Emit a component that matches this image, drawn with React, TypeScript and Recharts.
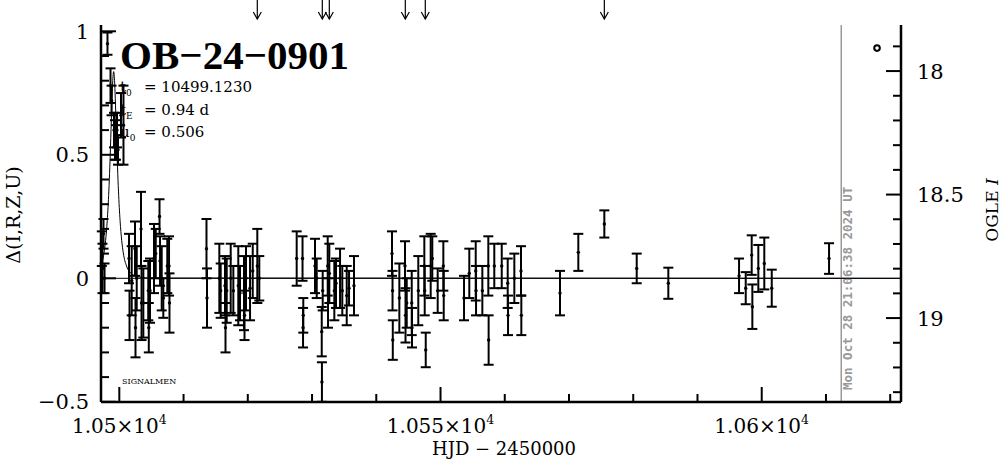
import React from 'react';
import { ComposedChart, XAxis, YAxis, Scatter, Line, ErrorBar, ReferenceLine } from 'recharts';

const FONT = '"DejaVu Serif", serif';

// photometry: HJD - 2450000, delta, error
const hjd = [
  10497.28, 10497.38, 10497.54, 10497.70, 10498.16, 10498.63, 10498.79, 10499.17, 10499.33, 10499.49,
  10499.64, 10499.80, 10500.26, 10500.65,
  10501.51, 10501.59, 10501.93, 10502.44, 10502.52, 10502.71, 10503.38, 10503.46, 10503.74, 10504.51,
  10504.59, 10504.78, 10505.40, 10505.67, 10506.26, 10506.34, 10506.60, 10506.85, 10507.47, 10507.74,
  10507.81,
  10513.57, 10513.65, 10515.57, 10515.78, 10516.45, 10516.53, 10516.72, 10517.34, 10517.75, 10518.52,
  10518.79, 10519.41, 10519.49, 10519.72, 10520.35, 10520.77, 10521.48, 10521.79,
  10527.61, 10528.52, 10528.60, 10528.64, 10530.46, 10530.73, 10531.51, 10531.54, 10531.66, 10532.44,
  10532.49, 10532.69, 10533.47, 10533.73, 10534.36, 10534.71, 10535.40, 10535.76, 10536.53,
  10542.45, 10542.53, 10542.57, 10543.59, 10544.47, 10544.55, 10544.74, 10545.52, 10545.56, 10546.54,
  10547.48, 10547.54, 10547.70, 10548.47, 10548.72, 10549.56, 10550.44, 10550.50,
  10553.66, 10554.48, 10555.48, 10555.53, 10556.51, 10557.44, 10557.49, 10558.37, 10559.53, 10560.46,
  10560.51, 10561.49, 10562.53, 10562.58,
  10568.60, 10571.45, 10575.50, 10580.54, 10585.46, 10596.47, 10597.51, 10598.44, 10598.54, 10599.47,
  10600.40, 10601.56, 10610.48,
];
const delta = [
  0.12, 0.04, 0.18, 0.0, 0.95, 0.78, 0.72, 0.6, 0.56, 0.55,
  0.6, 0.52, 0.66, 0.62,
  0.08, -0.15, -0.01, 0.12, -0.2, 0.0, 0.2, -0.1, -0.1, -0.05,
  -0.2, -0.05, 0.08, 0.1, 0.25, 0.07, 0.0, -0.08, 0.05, 0.05,
  -0.1,
  0.12, -0.08, 0.0, -0.05, -0.03, -0.2, -0.05, 0.0, -0.05, -0.03,
  -0.06, -0.06, -0.15, 0.0, -0.04, 0.03, 0.05, 0.0,
  0.08, 0.08, -0.2, -0.15, 0.05, 0.0, -0.216, -0.42, -0.05, 0.05,
  -0.1, 0.02, -0.05, -0.02, 0.0, -0.05, -0.07, -0.04, -0.03,
  0.1, -0.05, -0.25, -0.08, 0.05, -0.15, -0.1, -0.1, -0.2, -0.05,
  0.05, -0.05, -0.29, 0.05, 0.08, -0.05, 0.05, -0.07,
  -0.08, 0.02, 0.03, -0.05, -0.05, 0.05, -0.25, 0.05, 0.05, -0.02,
  -0.15, 0.0, 0.03, -0.15,
  -0.06, 0.105, 0.22, 0.04, -0.02, 0.01, -0.04, 0.094, -0.115, 0.04,
  0.06, -0.04, 0.08,
];
const sigma = [
  0.07, 0.1, 0.06, 0.06, 0.045, 0.07, 0.06, 0.07, 0.08, 0.07,
  0.07, 0.06, 0.09, 0.16,
  0.1, 0.1, 0.14, 0.11, 0.12, 0.13, 0.15, 0.15, 0.14, 0.12,
  0.1, 0.13, 0.14, 0.1, 0.07, 0.1, 0.13, 0.08, 0.11, 0.12,
  0.12,
  0.12, 0.12, 0.14, 0.11, 0.12, 0.1, 0.13, 0.14, 0.1, 0.16,
  0.11, 0.15, 0.1, 0.13, 0.13, 0.11, 0.15, 0.09,
  0.11, 0.09, 0.08, 0.07, 0.11, 0.08, 0.1, 0.08, 0.08, 0.12,
  0.1, 0.12, 0.12, 0.1, 0.12, 0.1, 0.12, 0.07, 0.12,
  0.09, 0.08, 0.08, 0.14, 0.1, 0.11, 0.1, 0.13, 0.08, 0.14,
  0.12, 0.1, 0.07, 0.13, 0.09, 0.09, 0.1, 0.1,
  0.09, 0.1, 0.12, 0.1, 0.1, 0.12, 0.1, 0.09, 0.09, 0.1,
  0.08, 0.1, 0.1, 0.08,
  0.09, 0.075, 0.055, 0.06, 0.063, 0.07, 0.065, 0.08, 0.09, 0.095,
  0.105, 0.075, 0.062,
];

// model light curve
const modelHjd = [
  10497.15, 10497.62, 10497.87, 10498.12, 10498.37, 10498.52, 10498.62, 10498.72, 10498.87, 10499.02,
  10499.12, 10499.22, 10499.37, 10499.52, 10499.62, 10499.72, 10499.87, 10500.12, 10500.37, 10500.62,
  10501.12, 10501.62, 10502.12, 10503.12, 10505.12, 10621.68,
];
const modelDelta = [
  0.052, 0.103, 0.154, 0.233, 0.353, 0.45, 0.526, 0.608, 0.729, 0.817,
  0.837, 0.817, 0.729, 0.608, 0.526, 0.45, 0.353, 0.233, 0.154, 0.103,
  0.05, 0.026, 0.014, 0.005, 0.001, 0.0,
];

const alertHjd = [10521.48, 10531.6, 10532.69, 10544.52, 10547.63, 10575.5];
const ogleHjd = [10617.95];
const ogleMag = [17.907];

const xTicks = [10500, 10510, 10520, 10530, 10540, 10550, 10560, 10570, 10580, 10590, 10600, 10610, 10620];
const yTicks = [-0.5, -0.4, -0.3, -0.2, -0.1, 0, 0.1, 0.2, 0.3, 0.4, 0.5, 0.6, 0.7, 0.8, 0.9, 1.0];
const magTicks = [17.9, 18.0, 18.1, 18.2, 18.3, 18.4, 18.5, 18.6, 18.7, 18.8, 18.9, 19.0, 19.1, 19.2, 19.3];

const X_DOMAIN: [number, number] = [10497.15, 10621.68];
const Y_DOMAIN: [number, number] = [-0.5008, 1.0255];
const MAG_DOMAIN: [number, number] = [17.8135, 19.3398];
const NOW_HJD = 10612.38;

const obsData = hjd.map((t, i) => ({ t, d: delta[i], e: sigma[i] }));
const modelData = modelHjd.map((t, i) => ({ t, d: modelDelta[i] }));
const arrowData = alertHjd.map((t) => ({ t, d: Y_DOMAIN[1] }));
const ogleData = ogleHjd.map((t, i) => ({ t, d: ogleMag[i] }));

const isHalf = (v: number) => Math.abs(v * 2 - Math.round(v * 2)) < 1e-6;

const BottomTick = ({ x, y, payload }: any) => {
  const v = payload.value;
  const major = v % 50 === 0;
  return (
    <g>
      <line x1={x} y1={y} x2={x} y2={y - (major ? 15 : 8)} stroke="#000" strokeWidth={2} />
      {major && (
        <text x={x} y={y + 31} textAnchor="middle" fontFamily={FONT} fontSize={20} fill="#000">
          {(v / 10000).toString()}×10
          <tspan fontSize={12.5} dy={-9}>4</tspan>
        </text>
      )}
    </g>
  );
};

const TopTick = ({ x, y, payload }: any) => {
  const major = payload.value % 50 === 0;
  return <line x1={x} y1={y} x2={x} y2={y + (major ? 15 : 8)} stroke="#000" strokeWidth={2} />;
};

const LeftTick = ({ x, y, payload }: any) => {
  const v = payload.value;
  const major = isHalf(v);
  const label = v < 0 ? '\u2212' + Math.abs(v) : String(v);
  return (
    <g>
      <line x1={x} y1={y} x2={x + (major ? 15 : 8)} y2={y} stroke="#000" strokeWidth={2} />
      {major && (
        <text x={x - 12} y={y + 7.5} textAnchor="end" fontFamily={FONT} fontSize={21} fill="#000">
          {label}
        </text>
      )}
    </g>
  );
};

const RightTick = ({ x, y, payload }: any) => {
  const v = payload.value;
  const major = isHalf(v);
  return (
    <g>
      <line x1={x} y1={y} x2={x - (major ? 15 : 8)} y2={y} stroke="#000" strokeWidth={2} />
      {major && (
        <text x={x + 16} y={y + 7.5} textAnchor="start" fontFamily={FONT} fontSize={21} fill="#000">
          {String(Math.round(v * 10) / 10)}
        </text>
      )}
    </g>
  );
};

const Dot = ({ cx, cy }: any) => <circle cx={cx} cy={cy} r={1.7} fill="#000" />;

const Arrow = ({ cx, cy }: any) => (
  <g stroke="#000" strokeWidth={1.2} fill="none">
    <line x1={cx} y1={cy - 26} x2={cx} y2={cy - 6} />
    <polyline points={`${cx - 4},${cy - 13} ${cx},${cy - 6} ${cx + 4},${cy - 13}`} />
  </g>
);

const OpenCircle = ({ cx, cy }: any) => (
  <circle cx={cx} cy={cy} r={2.8} fill="none" stroke="#000" strokeWidth={2} />
);

const StampLabel = ({ viewBox }: any) => {
  const { x, y, height } = viewBox;
  return (
    <text
      transform={`translate(${x + 11},${y + height - 12}) rotate(-90)`}
      fontFamily='"DejaVu Sans Mono", monospace'
      fontWeight="bold"
      fontSize={12.5}
      fill="#999"
    >
      Mon Oct 28 21:06:38 2024 UT
    </text>
  );
};

export default function App() {
  return (
    <div style={{ position: 'absolute', left: 0, top: 0, width: 1004, height: 459, background: '#fff' }}>
      <ComposedChart width={1004} height={459} margin={{ top: 25, right: 0, bottom: 0, left: 0 }}>
        <XAxis
          xAxisId="b"
          dataKey="t"
          type="number"
          domain={X_DOMAIN}
          ticks={xTicks}
          interval={0}
          tickSize={0}
          tickMargin={0}
          tickLine={false}
          tick={<BottomTick />}
          axisLine={{ stroke: '#000', strokeWidth: 2.5 }}
          height={57}
        />
        <XAxis
          xAxisId="top"
          orientation="top"
          dataKey="t"
          type="number"
          domain={X_DOMAIN}
          ticks={xTicks}
          interval={0}
          tickSize={0}
          tickMargin={0}
          tickLine={false}
          tick={<TopTick />}
          axisLine={{ stroke: '#000', strokeWidth: 2.5 }}
          height={0}
        />
        <YAxis
          yAxisId="left"
          type="number"
          domain={Y_DOMAIN}
          ticks={yTicks}
          interval={0}
          tickSize={0}
          tickMargin={0}
          tickLine={false}
          tick={<LeftTick />}
          axisLine={{ stroke: '#000', strokeWidth: 2.5 }}
          width={101}
        />
        <YAxis
          yAxisId="right"
          orientation="right"
          type="number"
          domain={MAG_DOMAIN}
          reversed
          ticks={magTicks}
          interval={0}
          tickSize={0}
          tickMargin={0}
          tickLine={false}
          tick={<RightTick />}
          axisLine={{ stroke: '#000', strokeWidth: 2.5 }}
          width={103}
        />
        <ReferenceLine xAxisId="b" yAxisId="left" y={0} stroke="#000" strokeWidth={1} />
        <ReferenceLine
          xAxisId="b"
          yAxisId="left"
          x={NOW_HJD}
          stroke="#999"
          strokeWidth={1.5}
          label={<StampLabel />}
        />
        <Line
          xAxisId="b"
          yAxisId="left"
          data={modelData}
          dataKey="d"
          type="monotone"
          stroke="#000"
          strokeWidth={1}
          dot={false}
          isAnimationActive={false}
        />
        <Scatter
          xAxisId="b"
          yAxisId="left"
          data={obsData}
          dataKey="d"
          shape={<Dot />}
          isAnimationActive={false}
        >
          <ErrorBar dataKey="e" direction="y" width={5} stroke="#000" strokeWidth={2} />
        </Scatter>
        <Scatter
          xAxisId="top"
          yAxisId="left"
          data={arrowData}
          dataKey="d"
          shape={<Arrow />}
          isAnimationActive={false}
        />
        <Scatter
          xAxisId="b"
          yAxisId="right"
          data={ogleData}
          dataKey="d"
          shape={<OpenCircle />}
          isAnimationActive={false}
        />
      </ComposedChart>
      <svg
        width={1004}
        height={459}
        style={{ position: 'absolute', left: 0, top: 0, pointerEvents: 'none' }}
      >
        <text x={120} y={69} fontFamily='"Liberation Serif", serif' fontWeight="bold" fontSize={41} fill="#000">
          OB{'\u2212'}24{'\u2212'}0901
        </text>
        <g fontFamily={FONT} fontSize={15} fill="#000">
          <text x={120} y={92}>
            t<tspan fontSize={9} dy={4}>0</tspan>
          </text>
          <text x={144} y={92}>= 10499.1230</text>
          <text x={120} y={115}>
            t<tspan fontSize={9} dy={4}>E</tspan>
          </text>
          <text x={144} y={115}>= 0.94 d</text>
          <text x={120} y={137}>
            u<tspan fontSize={9} dy={4}>0</tspan>
          </text>
          <text x={144} y={137}>= 0.506</text>
        </g>
        <text x={122} y={383.5} fontFamily={FONT} fontSize={8} fill="#000">
          SIGNALMEN
        </text>
        <text
          transform="translate(20,215) rotate(-90)"
          textAnchor="middle"
          fontFamily={FONT}
          fontSize={19}
          fill="#000"
        >
          Δ(I,R,Z,U)
        </text>
        <text
          transform="translate(998,210) rotate(-90)"
          textAnchor="middle"
          fontFamily={FONT}
          fontSize={17}
          fill="#000"
        >
          OGLE <tspan fontStyle="italic">I</tspan>
        </text>
        <text x={504} y={455} textAnchor="middle" fontFamily={FONT} fontSize={18} fill="#000">
          HJD {'\u2212'} 2450000
        </text>
      </svg>
    </div>
  );
}
